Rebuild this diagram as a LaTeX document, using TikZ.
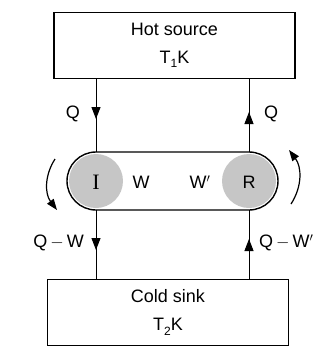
\documentclass[tikz,border=0pt]{standalone}
\usepackage{fontspec}
\setmainfont{Liberation Sans}
\newfontfamily\serifI{Liberation Serif}
\usetikzlibrary{arrows.meta}
\newcommand{\lowsub}[1]{\raisebox{-0.45ex}{\fontsize{12}{12}\selectfont #1}}
\tikzset{
  boxnode/.style={draw,line width=1.2pt,minimum width=241pt,minimum height=66pt,inner sep=0pt,align=center,font=\fontsize{18}{28}\selectfont},
  lbl/.style={font=\fontsize{18}{22}\selectfont,inner sep=0pt},
  flow/.style={line width=1pt},
  tipdown/.style={-{Triangle[length=12pt,width=9pt]}},
  turn/.style={line width=1.2pt,-{Triangle[length=11pt,width=8pt]}},
}
\begin{document}
\begin{tikzpicture}[x=1pt,y=-1pt]
\useasboundingbox (0,0) rectangle (331,349);
% boxes
\node[boxnode] (hot) at (174.5,45.5) {Hot source\\T\lowsub{1}K};
\node[boxnode] (cold) at (168,312.5) {Cold sink\\T\lowsub{2}K};
% capsule
\fill[gray!45] (96,181) circle (27);
\fill[gray!45] (249,181) circle (27);
\draw[line width=1.4pt,rounded corners=29pt] (67,152) rectangle (278,210);
\node[font=\serifI\fontsize{22}{24}\selectfont] (I) at (96,182) {I};
\node[lbl] (W) at (141,182) {W};
\node[lbl] (Wp) at (200,182) {W$'$};
\node[lbl] (R) at (249,182) {R};
\coordinate (capL1) at (96,152);
\coordinate (capL2) at (96,210);
\coordinate (capR1) at (249,152);
\coordinate (capR2) at (249,210);
% flow lines
\draw[flow] (hot.south -| capL1) -- (capL1);
\draw[flow] (hot.south -| capR1) -- (capR1);
\draw[flow] (capL2) -- (cold.north -| capL2);
\draw[flow] (capR2) -- (cold.north -| capR2);
% arrowheads
\coordinate (a1s) at (96,104); \coordinate (a1e) at (96,119);
\coordinate (a2s) at (249,127); \coordinate (a2e) at (249,112);
\coordinate (a3s) at (96,235); \coordinate (a3e) at (96,250);
\coordinate (a4s) at (249,254); \coordinate (a4e) at (249,239);
\draw[flow,tipdown] (a1s) -- (a1e);
\draw[flow,tipdown] (a2s) -- (a2e);
\draw[flow,tipdown] (a3s) -- (a3e);
\draw[flow,tipdown] (a4s) -- (a4e);
% labels
\node[lbl] (q1) at (73,114) {Q};
\node[lbl] (q2) at (271,114) {Q};
\node[lbl,anchor=east] (q3) at (84,243) {Q\,$-$\,W};
\node[lbl,anchor=west] (q4) at (259,243) {Q\,$-$\,W$'$};
% rotation arrows
\coordinate (l1) at (55,159);
\coordinate (l2) at (57,210);
\coordinate (r1) at (291,204);
\coordinate (r2) at (289,150);
\draw[turn] (l1) to[bend right=35] (l2);
\draw[turn] (r1) to[bend right=35] (r2);
\end{tikzpicture}
\end{document}
